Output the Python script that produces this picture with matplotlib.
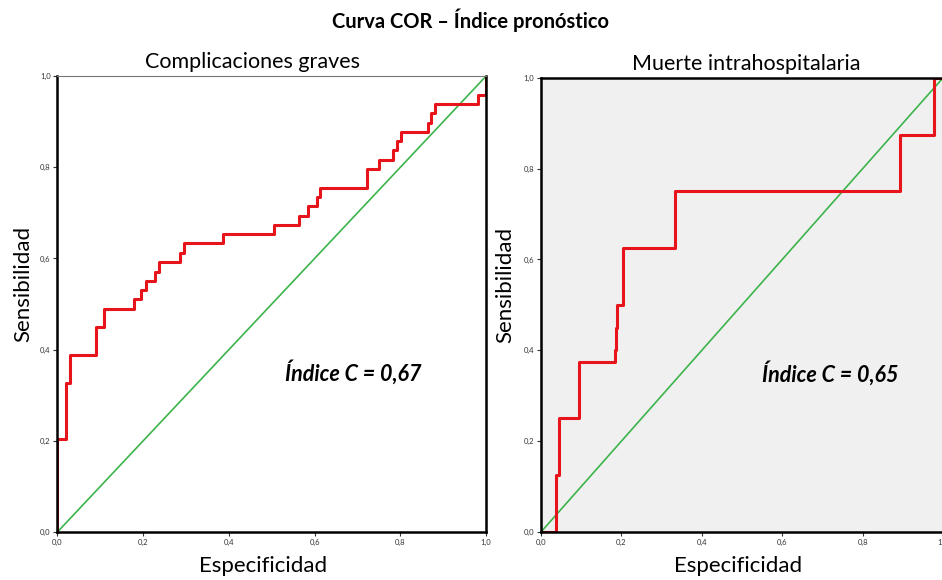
import matplotlib.pyplot as plt
from matplotlib.ticker import FuncFormatter

plt.rcParams['font.family'] = ['Lato', 'DejaVu Sans']

# Curva ROC - complicaciones graves (1 - especificidad, sensibilidad)
fpr_comp = [0.0, 0.0, 0.020, 0.020, 0.029, 0.029, 0.090, 0.090, 0.108, 0.108,
            0.178, 0.178, 0.196, 0.196, 0.206, 0.206, 0.228, 0.228, 0.237, 0.237,
            0.286, 0.286, 0.295, 0.295, 0.386, 0.386, 0.505, 0.505, 0.564, 0.564,
            0.585, 0.585, 0.605, 0.605, 0.613, 0.613, 0.723, 0.723, 0.750, 0.750,
            0.782, 0.782, 0.792, 0.792, 0.801, 0.801, 0.865, 0.865, 0.871, 0.871,
            0.880, 0.880, 0.982, 0.982, 1.0, 1.0]
tpr_comp = [0.0, 0.204, 0.204, 0.327, 0.327, 0.388, 0.388, 0.449, 0.449, 0.490,
            0.490, 0.510, 0.510, 0.531, 0.531, 0.551, 0.551, 0.571, 0.571, 0.592,
            0.592, 0.612, 0.612, 0.633, 0.633, 0.653, 0.653, 0.673, 0.673, 0.694,
            0.694, 0.714, 0.714, 0.735, 0.735, 0.755, 0.755, 0.796, 0.796, 0.816,
            0.816, 0.837, 0.837, 0.857, 0.857, 0.878, 0.878, 0.898, 0.898, 0.918,
            0.918, 0.939, 0.939, 0.959, 0.959, 1.0]

# Curva ROC - muerte intrahospitalaria
fpr_muerte = [0.0, 0.037, 0.037, 0.045, 0.045, 0.094, 0.094, 0.184, 0.184, 0.187,
              0.187, 0.190, 0.190, 0.203, 0.203, 0.333, 0.333, 0.893, 0.893, 0.978,
              0.978, 1.0]
tpr_muerte = [0.0, 0.0, 0.125, 0.125, 0.25, 0.25, 0.375, 0.375, 0.40, 0.40,
              0.45, 0.45, 0.50, 0.50, 0.625, 0.625, 0.75, 0.75, 0.875, 0.875,
              1.0, 1.0]

titles = ['Complicaciones graves', 'Muerte intrahospitalaria']
c_index = ['Índice C = 0,67', 'Índice C = 0,65']
ticks = [0.0, 0.2, 0.4, 0.6, 0.8, 1.0]

fig = plt.figure(figsize=(9.42, 5.8), dpi=100)
ax1 = fig.add_axes([0.061, 0.0828, 0.455, 0.786])
ax2 = fig.add_axes([0.5743, 0.0828, 0.4268, 0.783])

comma = FuncFormatter(lambda v, p: f'{v:.1f}'.replace('.', ','))

curves = [(fpr_comp, tpr_comp), (fpr_muerte, tpr_muerte)]
title_x = [0.456, 0.51]
xlab_x = [0.48, 0.49]
ylab_x = [-0.057, -0.065]
text_x = [0.69, 0.72]
for ax, (fx, ty), title, txt, i in zip([ax1, ax2], curves, titles, c_index, range(2)):
    ax.plot([0, 1], [0, 1], color='#3cb44b', lw=1.2)
    ax.plot(fx, ty, color='#e8141c', lw=2.2)
    ax.set_xlim(0, 1)
    ax.set_ylim(0, 1)
    ax.set_xticks(ticks)
    ax.set_yticks(ticks)
    ax.xaxis.set_major_formatter(comma)
    ax.yaxis.set_major_formatter(comma)
    ax.tick_params(labelsize=5.5, length=3, width=0.8, colors='#333333', pad=2)
    ax.set_title(title, fontsize=15.5, pad=6, x=title_x[i])
    ax.set_xlabel('Especificidad', fontsize=16)
    ax.xaxis.set_label_coords(xlab_x[i], -0.052)
    ax.set_ylabel('Sensibilidad', fontsize=16)
    ax.yaxis.set_label_coords(ylab_x[i], 0.545)
    ax.text(text_x[i], 0.35, txt, fontsize=15.5, fontweight='bold', style='italic',
            ha='center', va='center')
    for s in ['left', 'bottom', 'right', 'top']:
        ax.spines[s].set_linewidth(1.8)
        ax.spines[s].set_color('black')

ax1.spines['top'].set_linewidth(0.8)
ax1.spines['top'].set_color('#777777')
ax2.set_facecolor('#f0f0f0')

fig.text(0.5, 0.965, 'Curva COR – Índice pronóstico', fontsize=14.5,
         fontweight='bold', ha='center', va='center')

plt.savefig('out.png', dpi=100)
